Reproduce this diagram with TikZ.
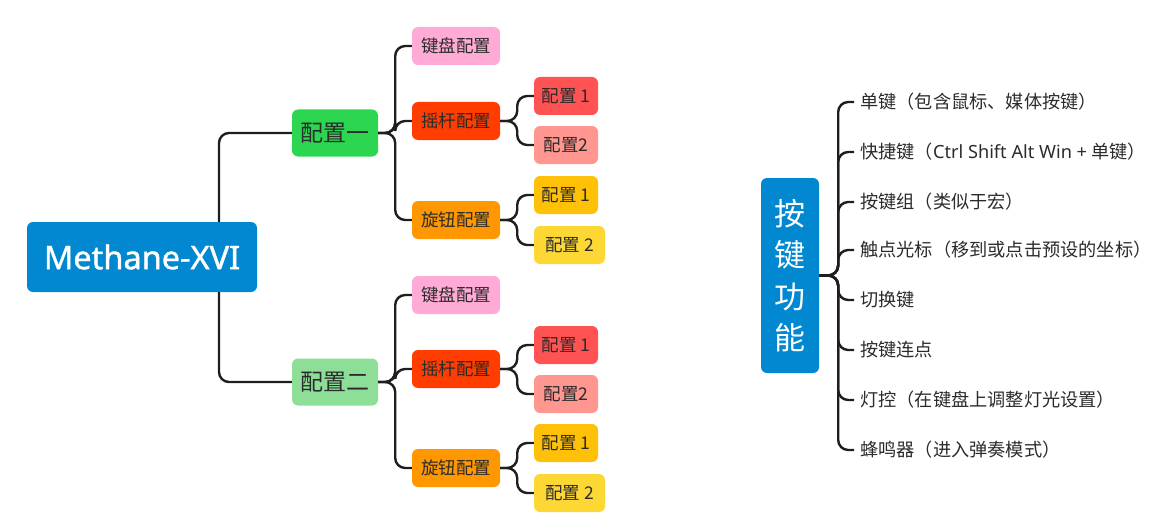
\documentclass[tikz,border=0pt]{standalone}
\usepackage{fontspec}
\setmainfont{Noto Sans CJK SC}
\newfontfamily\latinfont{Noto Sans}
\newfontfamily\rootfont[FakeBold=1.2]{Noto Sans}
\definecolor{rootblue}{HTML}{0288D1}
\definecolor{cgreen}{HTML}{2DD651}
\definecolor{clgreen}{HTML}{8DDF98}
\definecolor{cpink}{HTML}{FFABD6}
\definecolor{cred}{HTML}{FF3D00}
\definecolor{corange}{HTML}{FF9800}
\definecolor{cleafred}{HTML}{FF5252}
\definecolor{csalmon}{HTML}{FF9690}
\definecolor{camber}{HTML}{FFC107}
\definecolor{cyellow}{HTML}{FDD835}
\definecolor{txt}{HTML}{2B2B2B}
\definecolor{linec}{HTML}{1E1E1E}
\tikzset{
  box/.style={rounded corners=6pt, inner sep=0pt, text=txt, align=center},
  rootbox/.style={box, fill=rootblue, text=white, minimum width=230pt, minimum height=70pt, font=\rootfont\fontsize{32.5}{32.5}\selectfont},
  lvlone/.style={box, minimum width=86pt, minimum height=47pt, font=\fontsize{23}{23}\selectfont},
  lvltwo/.style={box, minimum width=88pt, minimum height=38pt, font=\fontsize{17.5}{17.5}\selectfont},
  leaf/.style={box, minimum width=64pt, minimum height=38pt, font=\fontsize{17.5}{17.5}\selectfont},
  feat/.style={anchor=west, inner sep=2pt, text=txt, font=\fontsize{18.2}{18.2}\selectfont},
  conn/.style={draw=linec, line width=2.4pt, rounded corners=10pt},
}
\begin{document}
\begin{tikzpicture}[x=1pt,y=-1pt]
\useasboundingbox (0,0) rectangle (1163,527);
% left mind map
\node[rootbox] (root) at (142,257) {Methane-XVI};
\node[lvlone, fill=cgreen] (c1) at (335,133) {配置一};
\node[lvlone, fill=clgreen] (c2) at (335,382) {配置二};

\node[lvltwo, fill=cpink] (k1) at (456,46) {键盘配置};
\node[lvltwo, fill=cred] (y1) at (456,121) {摇杆配置};
\node[lvltwo, fill=corange] (x1) at (456,220) {旋钮配置};
\node[leaf, fill=cleafred] (y1a) at (566,96) {配置 1};
\node[leaf, fill=csalmon] (y1b) at (566,145) {配置2};
\node[leaf, fill=camber] (x1a) at (566,195) {配置 1};
\node[leaf, fill=cyellow, minimum width=71pt] (x1b) at (569.5,245) {配置 2};

\node[lvltwo, fill=cpink] (k2) at (456,295) {键盘配置};
\node[lvltwo, fill=cred] (y2) at (456,369) {摇杆配置};
\node[lvltwo, fill=corange] (x2) at (456,468) {旋钮配置};
\node[leaf, fill=cleafred] (y2a) at (566,345) {配置 1};
\node[leaf, fill=csalmon] (y2b) at (566,394) {配置2};
\node[leaf, fill=camber] (x2a) at (566,443) {配置 1};
\node[leaf, fill=cyellow, minimum width=71pt] (x2b) at (569.5,493) {配置 2};

\draw[conn] ([xshift=77pt]root.north) |- (c1.west);
\draw[conn] ([xshift=77pt]root.south) |- (c2.west);
\foreach \a/\b in {c1/k1,c1/y1,c1/x1,c2/k2,c2/y2,c2/x2,y1/y1a,y1/y1b,x1/x1a,x1/x1b,y2/y2a,y2/y2b,x2/x2a,x2/x2b}{
  \draw[conn] (\a.east) -- ([xshift=17pt]\a.east) |- (\b.west);
}

% right: key functions
\node[box, fill=rootblue, text=white, minimum width=58pt, minimum height=195pt, font=\fontsize{31}{41.5}\selectfont] (f) at (790,275.5) {按\\键\\功\\能};
\node[feat] (t1) at (858,102) {单键（包含鼠标、媒体按键）};
\node[feat] (t2) at (858,152) {快捷键（{\latinfont Ctrl Shift Alt Win +} 单键）};
\node[feat] (t3) at (858,202) {按键组（类似于宏）};
\node[feat] (t4) at (858,250) {触点光标（移到或点击预设的坐标）};
\node[feat] (t5) at (858,300) {切换键};
\node[feat] (t6) at (858,350) {按键连点};
\node[feat] (t7) at (858,400) {灯控（在键盘上调整灯光设置）};
\node[feat] (t8) at (858,450) {蜂鸣器（进入弹奏模式）};
\foreach \t in {t1,t2,t3,t4,t5,t6,t7,t8}{
  \draw[conn] (f.east) -- ([xshift=19pt]f.east) |- ([xshift=-4pt]\t.west);
}
\end{tikzpicture}
\end{document}
